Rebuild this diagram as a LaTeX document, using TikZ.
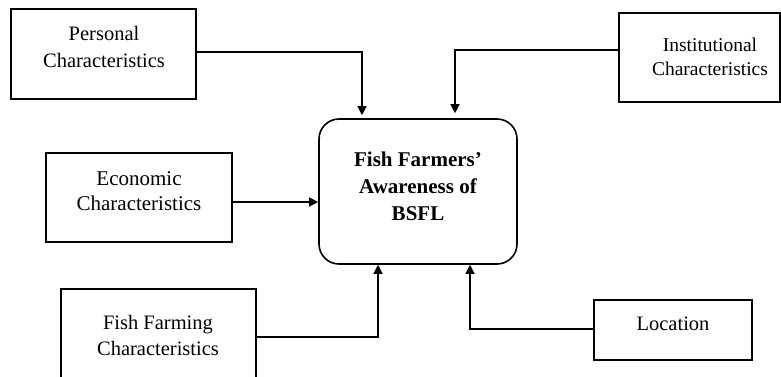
\documentclass[tikz,border=0pt]{standalone}
\usepackage{fontspec}
\setmainfont{Liberation Serif}
\usetikzlibrary{arrows.meta,calc}
\begin{document}
\begin{tikzpicture}[x=1pt,y=-1pt,
  box/.style={draw,line width=1.6pt,rectangle,inner sep=0pt},
  roundbox/.style={draw,line width=1.6pt,rectangle,rounded corners=20pt,inner sep=0pt},
  lbl/.style={inner sep=0pt,align=center,font=\fontsize{20.5}{27}\selectfont},
  conn/.style={line width=1.3pt,-{Triangle[length=9pt,width=9pt]}},
  plain/.style={line width=1.3pt}]
\useasboundingbox (0,0) rectangle (781,376);
\clip (0,0) rectangle (781,376);
% boxes
\node[box,minimum width=185pt,minimum height=90pt] (pers) at (103.5,54) {};
\node[box,minimum width=161pt,minimum height=89pt] (inst) at (699.5,57.5) {};
\node[box,minimum width=186pt,minimum height=89pt] (econ) at (139,197.5) {};
\node[box,minimum width=195pt,minimum height=96pt] (ff) at (158.5,337) {};
\node[box,minimum width=158pt,minimum height=60pt] (loc) at (673,330) {};
\node[roundbox,minimum width=198pt,minimum height=145pt] (ctr) at (418,191.5) {};
% labels
\node[lbl] (perst) at (104,47) {Personal\\Characteristics};
\node[lbl,font=\fontsize{19.5}{24}\selectfont] (instt) at (710,57) {Institutional\\Characteristics};
\node[lbl,font=\fontsize{21}{25}\selectfont] (econt) at (139,191) {Economic\\Characteristics};
\node[lbl,font=\fontsize{20.5}{26}\selectfont] (fft) at (158,335) {Fish Farming\\Characteristics};
\node[lbl] (loct) at (673,324) {Location};
\node[lbl,font=\bfseries\fontsize{21}{27}\selectfont] (ctrt) at (418,186) {Fish Farmers’\\Awareness of\\BSFL};
% connectors
\coordinate (p1) at ($(pers.east)+(0,-2)$);
\coordinate (p2) at ($(ctr.north)+(-56,-3)$);
\draw[conn] (p1) -| (p2);
\coordinate (i1) at ($(inst.west)+(0,-7.5)$);
\coordinate (i2) at ($(ctr.north)+(37,-5)$);
\draw[conn] (i1) -| (i2);
\coordinate (e1) at ($(econ.east)+(0,4.5)$);
\draw[conn] (e1) -- (e1 -| ctr.west);
\coordinate (f1) at ($(ff.east)+(0,0)$);
\coordinate (f2) at ($(ctr.south)+(-40,0)$);
\draw[conn] (f1) -| (f2);
\coordinate (l1) at ($(loc.west)+(0,-1)$);
\coordinate (l2) at ($(ctr.south)+(52,0)$);
\draw[conn] (l1) -| (l2);
\end{tikzpicture}
\end{document}
